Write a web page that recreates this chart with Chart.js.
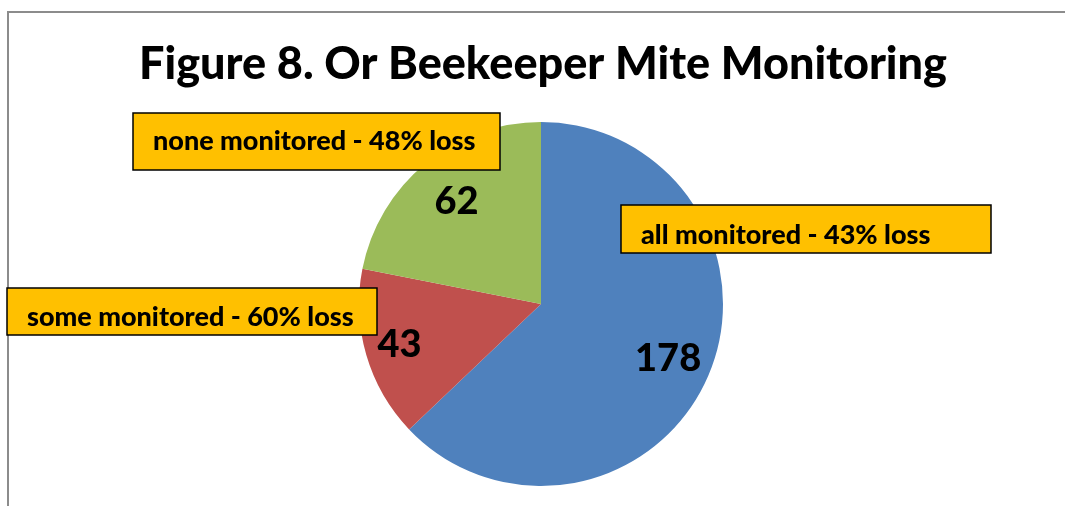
<!DOCTYPE html>
<html>
<head>
<meta charset="utf-8">
<script src="https://cdn.jsdelivr.net/npm/chart.js@4/dist/chart.umd.min.js"></script>
<style>
  html, body { margin: 0; padding: 0; background: #fff; }
  #wrap { width: 1065px; height: 506px; position: relative; }
</style>
</head>
<body>
<div id="wrap"><canvas id="pie"></canvas></div>
<script>
const categories = ["all monitored", "some monitored", "none monitored"];
const counts = [178, 43, 62];
const lossLabels = ["all monitored - 43% loss", "some monitored - 60% loss", "none monitored - 48% loss"];
const colors = ["#4F81BD", "#C0504D", "#9BBB59"];

const titleText = "Figure 8. Or Beekeeper Mite Monitoring";

// where the yellow callouts sit (pixels on the canvas)
const boxes = [
  { x: 621, y: 205, w: 370, h: 48, dy: 6 },
  { x: 7, y: 288, w: 370, h: 47, dy: 6 },
  { x: 133, y: 113, w: 367, h: 57, dy: 0 }
];
// how far out along the slice the numbers go
const labelRadius = [0.76, 0.81, 0.73];

const decorPlugin = {
  id: "decor",
  beforeDraw(chart) {
    const ctx = chart.ctx;
    ctx.save();
    ctx.strokeStyle = "#8c8c8c";
    ctx.lineWidth = 2;
    ctx.beginPath();
    ctx.moveTo(8, 506);
    ctx.lineTo(8, 12);
    ctx.lineTo(1065, 12);
    ctx.stroke();

    ctx.fillStyle = "#000";
    ctx.font = "900 45px Lato";
    ctx.textAlign = "center";
    ctx.textBaseline = "alphabetic";
    ctx.fillText(titleText, 543, 79);
    ctx.restore();
  },
  afterDraw(chart) {
    const ctx = chart.ctx;
    const meta = chart.getDatasetMeta(0);
    ctx.save();
    meta.data.forEach((arc, i) => {
      const mid = (arc.startAngle + arc.endAngle) / 2;
      const r = arc.outerRadius * labelRadius[i];
      const x = arc.x + Math.cos(mid) * r;
      const y = arc.y + Math.sin(mid) * r;
      ctx.fillStyle = "#000";
      ctx.font = "900 38px Lato";
      ctx.textAlign = "center";
      ctx.textBaseline = "middle";
      ctx.fillText(String(counts[i]), x, y);
    });

    boxes.forEach((b, i) => {
      ctx.fillStyle = "#FFC000";
      ctx.fillRect(b.x, b.y, b.w, b.h);
      ctx.strokeStyle = "#000";
      ctx.lineWidth = 1.5;
      ctx.strokeRect(b.x, b.y, b.w, b.h);
      ctx.fillStyle = "#000";
      ctx.font = "900 27px Lato";
      ctx.textAlign = "left";
      ctx.textBaseline = "middle";
      ctx.fillText(lossLabels[i], b.x + 20, b.y + b.h / 2 + b.dy);
    });
    ctx.restore();
  }
};

new Chart(document.getElementById("pie"), {
  type: "pie",
  data: {
    labels: categories,
    datasets: [{
      data: counts,
      backgroundColor: colors,
      borderWidth: 0
    }]
  },
  options: {
    responsive: true,
    maintainAspectRatio: false,
    animation: false,
    layout: { padding: { top: 122, bottom: 20, left: 17, right: 0 } },
    plugins: {
      legend: { display: false },
      tooltip: { enabled: false },
      title: { display: false }
    }
  },
  plugins: [decorPlugin]
});
</script>
</body>
</html>
